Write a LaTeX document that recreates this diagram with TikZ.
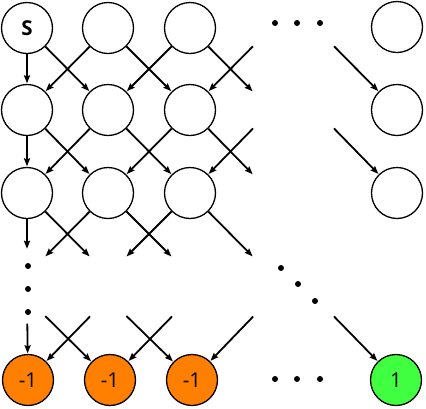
\documentclass[tikz,border=0pt]{standalone}
\usepackage{fontspec}
\setmainfont{Open Sans}
\usetikzlibrary{arrows.meta}
\definecolor{orng}{RGB}{255,128,0}
\definecolor{grn}{RGB}{64,255,64}
\tikzset{
  st/.style={circle,draw=black,line width=1.3pt,minimum size=51pt,inner sep=0pt,font=\fontsize{20.5}{20.5}\selectfont},
  ghost/.style={circle,minimum size=51pt,inner sep=0pt},
  ar/.style={line width=1.8pt,-{Stealth[length=8pt,width=6pt,inset=1pt]},shorten >=0.5pt},
  dot/.style={circle,fill=black,inner sep=0pt,minimum size=6pt}
}
\begin{document}
\begin{tikzpicture}[x=1pt,y=-1pt]
\useasboundingbox (0,0) rectangle (426,408);
% columns x: 28,109,190,(271),(316),397 ; rows y: 28,110,193,(275),(298),380
\node[st,font=\fontsize{20.5}{20.5}\selectfont\bfseries] (a1) at (27,28) {S};
\node[st] (a2) at (108,28) {};
\node[st] (a3) at (190,28) {};
\node[st] (a6) at (397,27) {};
\node[ghost] (a4) at (271,28) {};
\node[ghost] (a5) at (316,28) {};

\node[st] (b1) at (27,110) {};
\node[st] (b2) at (108,110) {};
\node[st] (b3) at (190,110) {};
\node[st] (b6) at (397,110) {};
\node[ghost] (b4) at (271,110) {};
\node[ghost] (b5) at (316,110) {};

\node[st] (c1) at (27,193) {};
\node[st] (c2) at (108,193) {};
\node[st] (c3) at (190,193) {};
\node[st] (c6) at (397,193) {};
\node[ghost] (c4) at (271,193) {};

\node[ghost] (d1) at (27,275) {};
\node[ghost] (d2) at (108,275) {};
\node[ghost] (d3) at (190,275) {};
\node[ghost] (d4) at (271,275) {};

\node[ghost] (e1) at (27,298) {};
\node[ghost] (e2) at (108,298) {};
\node[ghost] (e3) at (190,298) {};
\node[ghost] (e4) at (271,298) {};
\node[ghost] (e5) at (316,298) {};

\node[st,fill=orng] (f1) at (28,380) {-1};
\node[st,fill=orng] (f2) at (110,380) {-1};
\node[st,fill=orng] (f3) at (192,380) {-1};
\node[st,fill=grn] (f6) at (396,380) {1};

% row 1 -> 2
\draw[ar] (a1) -- (b1);
\draw[ar] (a1) -- (b2);
\draw[ar] (a2) -- (b1);
\draw[ar] (a2) -- (b3);
\draw[ar] (a3) -- (b2);
\draw[ar] (a3) -- (b4);
\draw[ar] (a4) -- (b3);
\draw[ar] (a5) -- (b6);
% row 2 -> 3
\draw[ar] (b1) -- (c1);
\draw[ar] (b1) -- (c2);
\draw[ar] (b2) -- (c1);
\draw[ar] (b2) -- (c3);
\draw[ar] (b3) -- (c2);
\draw[ar] (b3) -- (c4);
\draw[ar] (b4) -- (c3);
\draw[ar] (b5) -- (c6);
% row 3 -> 4
\draw[ar] (c1) -- (d1);
\draw[ar] (c1) -- (d2);
\draw[ar] (c2) -- (d1);
\draw[ar] (c2) -- (d3);
\draw[ar] (c3) -- (d2);
\draw[ar] (c3) -- (d4);
% last row
\draw[ar] (e1) -- (f1);
\draw[ar] (e1) -- (f2);
\draw[ar] (e2) -- (f1);
\draw[ar] (e2) -- (f3);
\draw[ar] (e3) -- (f2);
\draw[ar] (e4) -- (f3);
\draw[ar] (e5) -- (f6);

% dots
\node[dot] (t1) at (275,23) {};
\node[dot] (t2) at (297,23) {};
\node[dot] (t3) at (320,23) {};
\node[dot] (v1) at (28,266) {};
\node[dot] (v2) at (28,289) {};
\node[dot] (v3) at (28,312) {};
\node[dot] (g1) at (281,268) {};
\node[dot] (g2) at (298,284) {};
\node[dot] (g3) at (315,301) {};
\node[dot] (h1) at (275,379) {};
\node[dot] (h2) at (297,379) {};
\node[dot] (h3) at (320,379) {};
\end{tikzpicture}
\end{document}
